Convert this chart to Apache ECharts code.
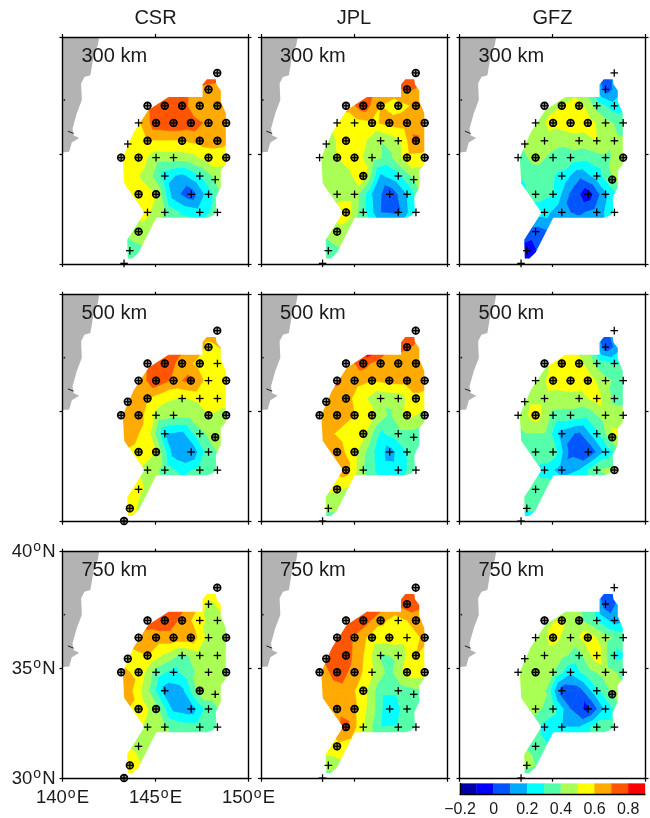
<!DOCTYPE html>
<html><head><meta charset="utf-8">
<style>html,body{margin:0;padding:0;background:#fff}#c{width:650px;height:818px}</style>
<script src="https://cdn.jsdelivr.net/npm/echarts@6/dist/echarts.min.js"></script>
</head><body><div id="c"></div>
<script>
// ---------- data ----------
const centres = ['CSR','JPL','GFZ'];
const depths = ['300 km','500 km','750 km'];
const barColors = ['#0000aa','#0000ff','#0055ff','#00aaff','#00ffff','#55ffaa','#aaff55','#ffff00','#ffaa00','#ff5500','#ff0000'];
const barMin = -0.2, barStep = 0.1;
const latTicks = [30,35,40];
const lonTicks = [140,145,150];
// value lattice: staggered rows (8 values on odd-lattice rows, 7 on even-lattice rows)
const rowLat = [38.5,37.8,37.1,36.36,35.58,34.84,34.02,33.2,32.38,31.5,30.62,30.03];
const oddLon = [142.68,143.62,144.57,145.5,146.43,147.38,148.33,149.27];
const evenLon = [143.15,144.09,145.03,145.97,146.9,147.85,148.8];
const outlineLon = [147.53,147.76,148.24,148.28,148.51,148.51,148.78,148.78,148.51,148.51,148.24,148.28,148.06,147.76,145.04,144.09,143.76,143.51,143.48,144.41,143.32,143.24,143.82,144.62,145.7,147.53];
const outlineLat = [38.01,38.23,38.23,38.01,37.76,37.28,36.78,34.54,34.27,33.53,33.05,32.38,32.23,32.14,32.14,30.53,30.26,30.26,31.13,32.38,33.69,34.84,35.93,36.92,37.48,37.48];
const landLon = [140,141.97,141.9,141.67,141.5,141.18,141,141.04,140.77,140.54,140.59,140.9,140.5,140.36,140];
const landLat = [40,40,39.67,39.2,38.4,38.33,38.05,37.35,36.78,36.12,35.82,35.7,35.5,35.1,35.07];
const coastMarkLon = [140.29,140.6];
const coastMarkLat = [36.0,35.9];
const speckLon = [140.1], speckLat = [37.35];
const stationLon = [148.32,147.85,144.57,145.5,146.43,147.38,148.33,144.09,145.03,145.97,146.9,147.85,148.8,143.51,144.57,146.43,147.38,148.33,143.15,144.09,145.03,145.97,147.85,148.8,145.5,147.38,148.21,144.09,145.03,146.92,147.85,144.57,145.5,147.38,148.33,144.09,143.62,143.31];
const stationLat = [38.5,37.8,37.1,37.1,37.1,37.1,37.1,36.36,36.36,36.36,36.36,36.36,36.36,35.44,35.58,35.58,35.58,35.58,34.84,34.84,34.84,34.84,34.84,34.84,34.02,34.02,33.86,33.2,33.2,33.2,33.2,32.38,32.38,32.38,32.38,31.5,30.62,30.03];

const csr300 = [
[.6,.6,.6,.6,.65,.8,.78,.65],
[.6,.62,.75,.76,.68,.66,.62],
[.55,.58,.68,.77,.75,.59,.62,.6],
[.52,.58,.76,.78,.76,.67,.64],
[.5,.54,.6,.6,.6,.63,.64,.6],
[.52,.56,.44,.44,.46,.55,.54],
[.5,.54,.46,.24,.17,.29,.45,.48],
[.56,.56,.5,.14,.03,.25,.45],
[.5,.5,.52,.4,.28,.24,.35,.4],
[.4,.48,.4,.4,.4,.4,.4],
[.35,.33,.38,.4,.4,.4,.4,.4],
[.3,.3,.3,.3,.3,.3,.3]];
const jpl300 = [
[.6,.6,.6,.6,.65,.8,.78,.65],
[.58,.62,.68,.72,.65,.72,.66],
[.55,.55,.63,.76,.6,.56,.62,.6],
[.48,.54,.55,.58,.63,.66,.65],
[.46,.46,.55,.52,.4,.47,.72,.62],
[.45,.5,.55,.44,.37,.56,.55],
[.45,.45,.47,.55,.18,.27,.45,.45],
[.45,.46,.46,.2,.01,.2,.45],
[.45,.5,.56,.33,.1,.07,.3,.4],
[.4,.47,.4,.35,.35,.35,.35],
[.35,.35,.4,.4,.4,.4,.4,.4],
[.3,.3,.3,.3,.3,.3,.3]];
const gfz300 = [
[.3,.3,.3,.3,.3,.12,.12,.2],
[.4,.42,.45,.45,.35,.05,.18],
[.42,.44,.46,.5,.55,.36,.24,.3],
[.42,.46,.53,.57,.55,.43,.36],
[.36,.44,.46,.42,.45,.5,.42,.4],
[.35,.44,.37,.36,.33,.38,.44],
[.3,.32,.34,.27,.12,.24,.43,.4],
[.25,.34,.3,.08,-.07,.18,.35],
[.2,.25,.24,.12,.08,.14,.28,.3],
[.1,.05,.1,.2,.2,.2,.2],
[-.05,-.07,.05,.2,.2,.2,.2,.2],
[-.1,-.1,-.1,-.1,-.1,-.1,-.1]];
const csr500 = [
[.6,.6,.6,.6,.6,.66,.66,.6],
[.62,.68,.75,.76,.7,.57,.62],
[.64,.66,.7,.76,.66,.56,.55,.55],
[.66,.64,.77,.68,.72,.55,.54],
[.64,.65,.6,.52,.49,.52,.54,.54],
[.62,.65,.47,.42,.43,.5,.47],
[.62,.65,.55,.2,.17,.37,.46,.46],
[.6,.56,.5,.15,.1,.36,.44],
[.5,.52,.47,.36,.26,.33,.38,.4],
[.5,.52,.45,.4,.4,.4,.4],
[.55,.54,.43,.4,.4,.4,.4,.4],
[.56,.5,.45,.4,.4,.4,.4]];
const jpl500 = [
[.6,.6,.6,.6,.7,.8,.75,.65],
[.68,.72,.78,.9,.74,.72,.64],
[.65,.7,.66,.74,.64,.63,.62,.6],
[.68,.72,.64,.6,.63,.64,.64],
[.65,.66,.64,.52,.42,.44,.58,.55],
[.62,.66,.6,.53,.38,.53,.47],
[.6,.62,.56,.53,.28,.36,.36,.4],
[.6,.65,.53,.32,.15,.3,.38],
[.6,.6,.65,.4,.25,.24,.36,.4],
[.5,.52,.45,.4,.4,.4,.4],
[.42,.42,.42,.4,.4,.4,.4,.4],
[.35,.35,.35,.35,.35,.35,.35]];
const gfz500 = [
[.3,.3,.3,.35,.35,.1,.15,.2],
[.42,.44,.5,.5,.4,.03,.18],
[.42,.44,.46,.61,.54,.37,.3,.3],
[.42,.44,.54,.56,.56,.42,.36],
[.45,.47,.47,.46,.46,.54,.37,.36],
[.43,.55,.37,.36,.33,.46,.44],
[.36,.4,.4,.15,.08,.27,.52,.42],
[.35,.37,.36,.06,0,.22,.4],
[.3,.32,.26,.15,.2,.4,.44,.4],
[.35,.36,.35,.3,.3,.3,.3],
[.3,.33,.34,.3,.3,.3,.3,.3],
[.18,.18,.18,.18,.18,.18,.18]];
const csr750 = [
[.55,.55,.55,.55,.55,.6,.6,.55],
[.6,.66,.74,.76,.68,.47,.55],
[.6,.66,.74,.76,.68,.52,.46,.46],
[.64,.67,.66,.66,.67,.46,.46],
[.6,.56,.6,.48,.37,.45,.46,.46],
[.62,.58,.35,.26,.38,.46,.45],
[.62,.63,.42,.15,.17,.45,.46,.45],
[.62,.57,.44,.17,.13,.35,.44],
[.55,.55,.47,.41,.35,.35,.4,.4],
[.52,.47,.42,.4,.4,.4,.4],
[.6,.56,.47,.4,.4,.4,.4,.4],
[.5,.45,.4,.4,.4,.4,.4]];
const jpl750 = [
[.6,.6,.6,.6,.66,.74,.68,.6],
[.7,.76,.8,.84,.68,.76,.72],
[.72,.76,.76,.76,.62,.56,.64,.6],
[.74,.76,.68,.56,.55,.54,.62],
[.66,.76,.75,.6,.38,.42,.6,.55],
[.62,.76,.66,.52,.36,.55,.55],
[.6,.62,.66,.54,.33,.33,.38,.42],
[.6,.67,.62,.44,.2,.36,.38],
[.6,.62,.74,.5,.3,.31,.36,.4],
[.55,.56,.5,.42,.4,.4,.4],
[.42,.44,.48,.4,.4,.4,.4,.4],
[.35,.35,.35,.35,.35,.35,.35]];
const gfz750 = [
[.35,.35,.35,.35,.3,.12,.1,.2],
[.42,.44,.44,.42,.36,.03,.15],
[.44,.44,.46,.52,.42,.3,.15,.2],
[.42,.4,.54,.44,.56,.43,.36],
[.42,.45,.45,.42,.36,.56,.27,.3],
[.44,.46,.4,.22,.36,.45,.37],
[.45,.46,.42,.03,.05,.27,.45,.42],
[.45,.43,.34,.1,-.04,.22,.4],
[.4,.4,.26,.2,.2,.35,.35,.35],
[.42,.36,.28,.3,.3,.3,.3],
[.3,.45,.34,.3,.3,.3,.3,.3],
[.22,.22,.22,.22,.22,.22,.22]];

// 1 = circled station, 0 = plain cross
const csr300Sig = [1,1,1,1,1,1,1,0,1,1,1,1,1,0,1,1,1,1,1,1,0,0,1,1,0,0,0,1,1,0,0,0,0,0,0,1,0,0];
const jpl300Sig = [1,1,1,1,1,1,1,0,0,1,1,1,1,0,1,0,0,1,0,1,1,0,1,1,1,0,0,0,0,0,0,1,0,0,0,1,0,0];
const gfz300Sig = [0,0,1,1,1,0,0,0,1,1,1,0,0,0,0,0,0,0,0,1,0,0,0,1,0,0,1,0,0,0,0,0,0,0,0,0,0,0];
const csr500Sig = [1,1,1,1,1,1,0,1,1,1,1,0,1,1,1,0,0,0,1,1,0,0,1,1,0,0,1,1,1,0,0,0,0,0,0,0,1,1];
const jpl500Sig = [1,1,1,1,1,1,1,1,1,1,1,1,1,1,1,0,0,1,1,1,1,1,1,1,1,0,0,1,1,0,0,1,0,0,0,1,0,0];
const gfz500Sig = [0,0,1,1,1,0,0,0,1,1,1,0,0,0,0,0,0,0,0,1,0,0,0,0,0,0,1,0,0,0,0,0,0,0,1,0,0,0];
const csr750Sig = [1,0,1,1,1,0,0,1,1,1,1,0,1,1,1,0,0,0,1,1,0,0,0,1,0,1,0,1,1,0,0,0,0,0,0,0,1,1];
const jpl750Sig = [1,1,1,1,1,0,1,1,1,1,1,0,1,1,1,0,0,1,1,1,1,0,1,1,1,0,0,1,1,0,0,1,0,0,0,1,0,0];
const gfz750Sig = [0,0,1,1,1,0,0,0,1,0,1,0,0,0,0,0,0,0,0,1,0,0,0,0,0,0,1,0,0,0,0,0,0,0,0,0,0,0];

const panelValues = [csr300,jpl300,gfz300,csr500,jpl500,gfz500,csr750,jpl750,gfz750];
const panelSig = [csr300Sig,jpl300Sig,gfz300Sig,csr500Sig,jpl500Sig,gfz500Sig,csr750Sig,jpl750Sig,gfz750Sig];

// ---------- layout ----------
const colLeft = [62.5,261,459.5], rowTop = [37,294.7,551.7], panelW = 186, panelH = 227;
const TXT = '#1a1a1a', FONT = '"Liberation Sans", Arial, sans-serif';

// Mercator axis, as in the reference map
const merc = lat => Math.log(Math.tan((45 + lat/2) * Math.PI/180)) * 180/Math.PI;
const imerc = m => 2*Math.atan(Math.exp(m*Math.PI/180))*180/Math.PI - 90;

// filled contour bands by marching through the triangles of the value lattice
function clip(poly, level, above){
  const out=[];
  for(let i=0;i<poly.length;i++){
    const a=poly[i], b=poly[(i+1)%poly.length];
    const ia = above ? a[2]>=level : a[2]<=level;
    const ib = above ? b[2]>=level : b[2]<=level;
    if(ia) out.push(a);
    if(ia!==ib){
      const t=(level-a[2])/(b[2]-a[2]);
      out.push([a[0]+t*(b[0]-a[0]),a[1]+t*(b[1]-a[1]),level]);
    }
  }
  return out;
}
function bands(vals){
  const polys=[];
  const node=(r,i)=>{
    const lons = r%2===0 ? oddLon : evenLon;
    return [lons[i], merc(rowLat[r]), vals[r][i]];
  };
  const tris=[];
  for(let r=0;r<rowLat.length-1;r++){
    const oddR = r%2===0 ? r : r+1, evenR = r%2===0 ? r+1 : r;
    for(let i=0;i<7;i++) tris.push([node(evenR,i),node(oddR,i),node(oddR,i+1)]);
    for(let i=0;i<6;i++) tris.push([node(evenR,i),node(evenR,i+1),node(oddR,i+1)]);
  }
  tris.forEach(tri=>{
    barColors.forEach((col,k)=>{
      const lo=barMin+k*barStep, hi=lo+barStep;
      let p=clip(tri,k===0?-9:lo,true);
      if(p.length) p=clip(p,k===barColors.length-1?9:hi,false);
      if(p.length>2) polys.push({col,pts:p.map(q=>[q[0],q[1]])});
    });
  });
  return polys;
}

const grids=[],xAxes=[],yAxes=[],series=[],titles=[];
const degRich={n:{fontSize:18.5,color:TXT,fontFamily:FONT},s:{fontSize:14,color:TXT,fontFamily:FONT,verticalAlign:'top',padding:[0,1,9,1]}};

centres.forEach((c,i)=>titles.push({text:c,left:colLeft[i]+panelW/2,top:8,padding:0,textAlign:'center',textStyle:{fontSize:20,fontWeight:'normal',color:TXT,fontFamily:FONT}}));

const m30=merc(latTicks[0]), m40=merc(latTicks[2]);
for(let p=0;p<9;p++){
  const row=Math.floor(p/3), col=p%3;
  grids.push({left:colLeft[col],top:rowTop[row],width:panelW,height:panelH,containLabel:false});
  titles.push({text:depths[row],left:colLeft[col]+19,top:rowTop[row]+9,padding:0,textStyle:{fontSize:20,fontWeight:'normal',color:TXT,fontFamily:FONT}});
  const showLab = row===2 && col===0;
  const axLine={lineStyle:{color:'#000',width:1.4}};
  const tick={length:3,lineStyle:{color:'#000',width:1.2}};
  ['bottom','top'].forEach((pos,j)=>xAxes.push({
    type:'value',gridIndex:p,position:pos,min:lonTicks[0],max:lonTicks[2],interval:5,z:6,
    axisLine:{show:true,onZero:false,...axLine},axisTick:{show:true,...tick},splitLine:{show:false},
    axisLabel:{show:showLab&&j===0,margin:8,showMinLabel:true,showMaxLabel:true,rich:degRich,
      formatter:v=>`{n|${v}}{s|o}{n|E}`}
  }));
  ['left','right'].forEach((pos,j)=>yAxes.push({
    type:'value',gridIndex:p,position:pos,min:m30,max:m40,z:6,
    axisLine:{show:true,onZero:false,...axLine},
    axisTick:{show:true,...tick,customValues:latTicks.map(merc)},splitLine:{show:false},
    axisLabel:{show:showLab&&j===0,margin:7,customValues:latTicks.map(merc),rich:degRich,
      formatter:v=>`{n|${Math.round(imerc(v))}}{s|o}{n|N}`}
  }));
  const xi=2*p, yi=2*p;
  const polys=bands(panelValues[p]);
  series.push({type:'custom',coordinateSystem:'cartesian2d',xAxisIndex:xi,yAxisIndex:yi,z:2,silent:true,clip:false,
    data:polys.map(q=>q.pts[0]),encode:{x:0,y:1},
    renderItem:(params,api)=>{
      const q=polys[params.dataIndex];
      return {type:'polygon',shape:{points:q.pts.map(a=>api.coord(a))},style:{fill:q.col,stroke:q.col,lineWidth:0.6}};
    }});
  // white mask outside the data outline
  const maskPts=[[140,m30],[150,m30],[150,m40],[140,m40],[140,m30]]
     .concat(outlineLon.map((x,k)=>[x,merc(outlineLat[k])]));
  maskPts.push([outlineLon[0],merc(outlineLat[0])],[140,m30]);
  series.push({type:'custom',coordinateSystem:'cartesian2d',xAxisIndex:xi,yAxisIndex:yi,z:3,silent:true,clip:false,
    data:[[140,m30]],encode:{x:0,y:1},
    renderItem:(params,api)=>({type:'polygon',shape:{points:maskPts.map(a=>api.coord(a))},style:{fill:'#fff'}})});
  // land and small coastal marks
  series.push({type:'custom',coordinateSystem:'cartesian2d',xAxisIndex:xi,yAxisIndex:yi,z:4,silent:true,clip:false,
    data:[[140,m30]],encode:{x:0,y:1},
    renderItem:(params,api)=>({type:'group',children:[
      {type:'polygon',shape:{points:landLon.map((x,k)=>api.coord([x,merc(landLat[k])]))},style:{fill:'#b3b3b3'}},
      {type:'polyline',shape:{points:coastMarkLon.map((x,k)=>api.coord([x,merc(coastMarkLat[k])]))},style:{stroke:'#222',lineWidth:1,fill:null}},
      {type:'circle',shape:{cx:api.coord([speckLon[0],merc(speckLat[0])])[0],cy:api.coord([speckLon[0],merc(speckLat[0])])[1],r:0.9},style:{fill:'#222'}}
    ]})});
  // stations
  const sig=panelSig[p];
  series.push({type:'custom',coordinateSystem:'cartesian2d',xAxisIndex:xi,yAxisIndex:yi,z:10,silent:true,clip:false,
    data:stationLon.map((x,k)=>[x,merc(stationLat[k]),sig[k]]),encode:{x:0,y:1},
    renderItem:(params,api)=>{
      const c=api.coord([api.value(0),api.value(1)]), s=api.value(2), a=3.8;
      const st={stroke:'#000',lineWidth:1.3,fill:null};
      const kids=[];
      if(s) kids.push({type:'circle',shape:{cx:c[0],cy:c[1],r:3.4},style:{stroke:'#000',lineWidth:1.6,fill:'rgba(0,0,0,0.35)'}});
      kids.push({type:'line',shape:{x1:c[0]-a,y1:c[1],x2:c[0]+a,y2:c[1]},style:st},
                {type:'line',shape:{x1:c[0],y1:c[1]-a,x2:c[0],y2:c[1]+a},style:st});
      return {type:'group',children:kids};
    }});
}
// colour bar
grids.push({left:460,top:783.5,width:185,height:13.5});
xAxes.push({type:'value',gridIndex:9,min:-0.2,max:0.9,interval:0.2,position:'bottom',z:6,
  axisLine:{show:true,onZero:false,lineStyle:{color:'#000',width:1.4}},axisTick:{show:false},splitLine:{show:false},
  axisLabel:{show:true,margin:8,showMaxLabel:false,color:TXT,fontSize:16,fontFamily:FONT,
    formatter:v=>{const r=Math.round(v*10)/10;return r<0?'\u2212'+(-r):String(r);}}});
yAxes.push({type:'value',gridIndex:9,min:0,max:1,z:6,
  axisLine:{show:true,onZero:false,lineStyle:{color:'#000',width:1.4}},axisTick:{show:false},axisLabel:{show:false},splitLine:{show:false}});
series.push({type:'custom',coordinateSystem:'cartesian2d',xAxisIndex:18,yAxisIndex:18,z:2,silent:true,
  data:barColors.map((c,k)=>[barMin+k*barStep,0]),encode:{x:0,y:1},
  renderItem:(params,api)=>{
    const a=api.coord([api.value(0),1]),b=api.coord([api.value(0)+barStep,0]);
    const col=barColors[params.dataIndex];
    return {type:'rect',shape:{x:a[0],y:a[1],width:b[0]-a[0],height:b[1]-a[1]},style:{fill:col,stroke:col,lineWidth:0.3}};
  }});

const chart=echarts.init(document.getElementById('c'),null,{renderer:'canvas'});
chart.setOption({animation:false,backgroundColor:'#fff',title:titles,tooltip:{show:false},grid:grids,xAxis:xAxes,yAxis:yAxes,series});
</script></body></html>
